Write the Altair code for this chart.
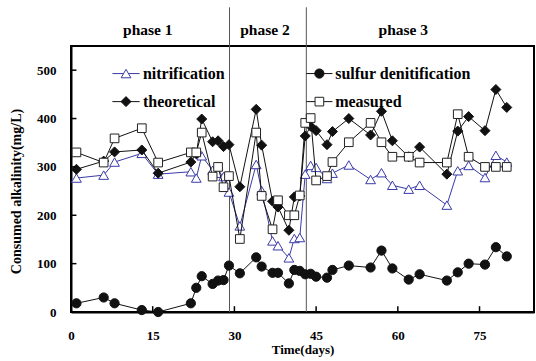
import altair as alt
import pandas as pd

# ---- data ----
days = [1, 6, 8, 13, 16, 22, 23, 24, 26, 27, 28, 29, 31, 34, 35, 37, 38, 40, 41, 42,
        43, 44, 45, 47, 48, 51, 55, 57, 59, 62, 64, 69, 71, 73, 76, 78, 80]
nitrification = [277, 283, 310, 328, 285, 290, 277, 323, 293, 287, 280, 248, 178, 305, 251,
                 147, 137, 112, 152, 154, 285, 303, 299, 276, 287, 304, 274, 288, 262, 254,
                 262, 221, 292, 303, 278, 324, 310]
theoretical = [295, 312, 331, 335, 287, 310, 327, 399, 352, 354, 342, 346, 259, 419, 345,
               229, 217, 169, 238, 240, 364, 384, 375, 346, 373, 400, 366, 415, 354, 321,
               341, 285, 374, 404, 375, 460, 423]
measured = [330, 309, 359, 380, 309, 330, 330, 371, 280, 300, 258, 281, 151, 371, 240,
            171, 231, 200, 200, 241, 391, 401, 272, 281, 310, 351, 391, 351, 321, 321,
            309, 309, 409, 321, 300, 300, 300]
sulfur = [18, 30, 18, 4, 0, 18, 50, 74, 58, 65, 66, 96, 80, 113, 94, 81, 81, 59, 87, 85,
          78, 79, 73, 71, 87, 96, 92, 127, 90, 67, 78, 65, 82, 100, 98, 134, 115]

phase_bounds = [29.1, 43.2]
phase_names = ["phase 1", "phase 2", "phase 3"]
phase_label_x = [14.1, 35.6, 61.0]

x_tick_values = [0, 15, 30, 45, 60, 75]
y_tick_values = [0, 100, 200, 300, 400, 500]

legend_labels = ["nitrification", "theoretical", "sulfur denitification", "measured"]

# ---- styling ----
FONT = "Liberation Serif"
BLUE = "#3a3aa8"
BLACK = "#111111"

xs = alt.Scale(domain=[0, 85], nice=False, zero=False)
ys = alt.Scale(domain=[0, 550], nice=False, zero=False)

xaxis = alt.Axis(values=x_tick_values, ticks=False, grid=False, labelPadding=17,
                 labelFont=FONT, labelFontSize=13, labelFontWeight="bold", labelColor="black",
                 title="Time(days)", titleFont=FONT, titleFontSize=13, titleFontWeight="bold",
                 titleColor="black", titlePadding=1, domainColor="black", domainWidth=2,
                 labelFlush=False)
yaxis = alt.Axis(values=y_tick_values, ticks=False, grid=False, labelPadding=15,
                 labelFont=FONT, labelFontSize=13, labelFontWeight="bold", labelColor="black",
                 title="Consumed alkalinity(mg/L)", titleFont=FONT, titleFontSize=14,
                 titleFontWeight="bold", titleColor="black", titlePadding=13, titleY=145,
                 domainColor="black", domainWidth=2, labelFlush=False)

X = alt.X("x:Q", scale=xs, axis=xaxis)
Y = alt.Y("y:Q", scale=ys, axis=yaxis)


def series_layers(vals, shape, stroke, fill, size, line_color):
    d = pd.DataFrame({"x": days, "y": vals})
    line = alt.Chart(d).mark_line(color=line_color, strokeWidth=1).encode(x=X, y=Y)
    pts = alt.Chart(d).mark_point(shape=shape, filled=True, fill=fill, stroke=stroke,
                                  strokeWidth=1, size=size, opacity=1,
                                  fillOpacity=1).encode(x=X, y=Y)
    return [line, pts]


styles = {
    "nitrification": dict(shape="triangle-up", stroke=BLUE, fill="white", size=95, line_color=BLUE),
    "theoretical": dict(shape="diamond", stroke=BLACK, fill=BLACK, size=100, line_color=BLACK),
    "measured": dict(shape="square", stroke="#222222", fill="white", size=75, line_color=BLACK),
    "sulfur denitification": dict(shape="circle", stroke=BLACK, fill=BLACK, size=85, line_color=BLACK),
}

layers = []
# phase separators (extend above the plot)
ph = pd.DataFrame({"x": phase_bounds, "y": [0, 0], "y2": [630, 630]})
layers.append(alt.Chart(ph).mark_rule(color="#555555", strokeWidth=1).encode(
    x=X, y=Y, y2=alt.Y2("y2:Q")))

layers += series_layers(nitrification, **styles["nitrification"])
layers += series_layers(theoretical, **styles["theoretical"])
layers += series_layers(measured, **styles["measured"])
layers += series_layers(sulfur, **styles["sulfur denitification"])

# inward ticks
xt = pd.DataFrame({"x": x_tick_values[1:], "y": [0] * 5, "y2": [12] * 5})
layers.append(alt.Chart(xt).mark_rule(color="black", strokeWidth=1.5).encode(
    x=X, y=Y, y2=alt.Y2("y2:Q")))
yt = pd.DataFrame({"x": [0] * 6, "x2": [1.0] * 6, "y": y_tick_values})
layers.append(alt.Chart(yt).mark_rule(color="black", strokeWidth=1.5).encode(
    x=X, x2=alt.X2("x2:Q"), y=Y))

# manual legend (two columns, two rows)
leg_cols = {"nitrification": (7.6, 12.6, 10.1, 13.2, 493),
            "theoretical": (7.6, 12.6, 10.1, 13.2, 435),
            "sulfur denitification": (43.2, 48.0, 45.6, 48.5, 493),
            "measured": (43.2, 48.0, 45.6, 48.5, 435)}
for name in legend_labels:
    x1, x2, xm, xtxt, yv = leg_cols[name]
    st = styles[name]
    seg = pd.DataFrame({"x": [x1], "x2": [x2], "y": [yv]})
    layers.append(alt.Chart(seg).mark_rule(color=st["line_color"], strokeWidth=1).encode(
        x=X, x2=alt.X2("x2:Q"), y=Y))
    pt = pd.DataFrame({"x": [xm], "y": [yv]})
    layers.append(alt.Chart(pt).mark_point(shape=st["shape"], filled=True, fill=st["fill"],
                                           stroke=st["stroke"], strokeWidth=1, size=st["size"],
                                           opacity=1, fillOpacity=1).encode(x=X, y=Y))
    tx = pd.DataFrame({"x": [xtxt], "y": [yv], "t": [name]})
    layers.append(alt.Chart(tx).mark_text(align="left", baseline="middle", font=FONT,
                                          fontSize=16, fontWeight="bold", color="black").encode(
        x=X, y=Y, text="t:N"))

# phase labels
pl = pd.DataFrame({"x": phase_label_x, "y": [573] * 3, "t": phase_names})
layers.append(alt.Chart(pl).mark_text(align="center", baseline="alphabetic", font=FONT,
                                      fontSize=15.5, fontWeight="bold", color="black").encode(
    x=X, y=Y, text="t:N"))

chart = alt.layer(*layers).properties(
    width=463, height=266,
    autosize=alt.AutoSizeParams(type="none"),
    padding={"left": 71, "top": 46, "right": 2, "bottom": 49},
    background="white",
).configure_view(stroke="black", strokeWidth=2)

chart.save("out.html", embed_options={"renderer": "svg", "actions": False})
